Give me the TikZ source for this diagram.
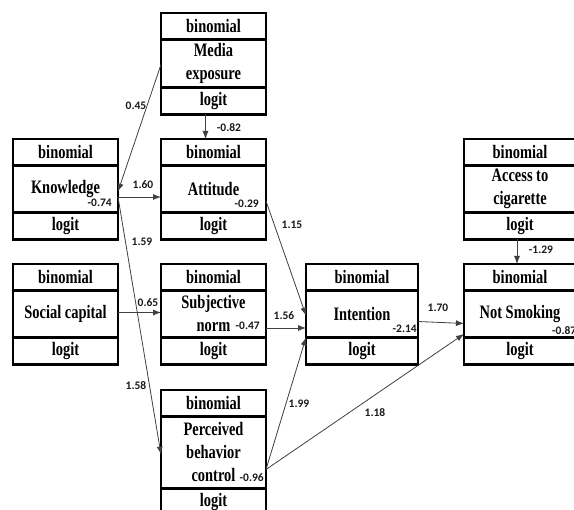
\documentclass[tikz,border=0pt]{standalone}
\usepackage{fontspec}
\setmainfont{Liberation Serif}
\newfontfamily\boxfont{Liberation Serif}[FakeStretch=0.76]
\newfontfamily\coeffont{Carlito}
\usetikzlibrary{arrows.meta,calc}
\tikzset{
  cell/.style={draw=black, line width=2.6pt, inner sep=0pt, outer sep=0pt,
    anchor=north west, align=center,
    font=\boxfont\bfseries\fontsize{19}{23}\selectfont},
  coef/.style={font=\coeffont\bfseries\fontsize{11.5}{13}\selectfont, inner sep=0pt, text=black!90},
  link/.style={draw=black!75, line width=0.8pt, -{Latex[length=8pt,width=6pt]}}
}
\newcommand\mkbox[6]{%
  \node[cell, minimum width=#4pt, minimum height=26.5pt] (#1-h) at (#2,#3) {binomial};
  \node[cell, minimum width=#4pt, minimum height=#5pt] (#1) at (#1-h.south west) {#6};
  \node[cell, minimum width=#4pt, minimum height=27pt] (#1-l) at (#1.south west) {logit};
}
\begin{document}
\begin{tikzpicture}[x=1pt,y=-1pt]
\useasboundingbox (0,0) rectangle (574,510);
\clip (0,0) rectangle (574,510);
\mkbox{med}{161}{13}{105}{48}{Media\\exposure}
\mkbox{know}{13}{139}{105}{47}{Knowledge}
\mkbox{att}{161}{139}{105}{47}{Attitude}
\mkbox{acc}{464}{139}{112}{47}{Access to\\cigarette}
\mkbox{soc}{13}{264}{105}{47}{Social capital}
\mkbox{subj}{161}{264}{105}{47}{Subjective\\norm}
\mkbox{int}{306}{264}{112}{47}{Intention}
\mkbox{ns}{464}{264}{112}{47}{Not Smoking}
\mkbox{pbc}{161}{390}{105}{72}{Perceived\\behavior\\control}

% intercepts
\node[coef, anchor=east] (i-know) at (112,203) {-0.74};
\node[coef, anchor=east] (i-att) at (259,204) {-0.29};
\node[coef, anchor=east] (i-subj) at (260,326) {-0.47};
\node[coef, anchor=east] (i-pbc) at (264,478) {-0.96};
\node[coef, anchor=east] (i-int) at (417,329) {-2.14};
\node[coef, anchor=west] (i-ns) at (552,331) {-0.87};

% connectors
\draw[link] ($(med.west)+(0,1)$) -- ($(know.east)+(0,2.5)$);
\draw[link] ($(med-l.south)+(-8,0)$) -- ($(att-h.north)+(-8,0)$);
\draw[link] ($(know.east)+(0,8)$) -- ($(att.west)+(0,8)$);
\draw[link] ($(know.east)+(0,8)$) -- ($(pbc.west)+(0,2)$);
\draw[link] ($(soc.east)+(0,-1.5)$) -- ($(subj.west)+(0,-1.5)$);
\draw[link] ($(att.east)+(0,12)$) -- ($(int.west)+(0,1.5)$);
\draw[link] ($(subj.east)+(0,14)$) -- ($(int.west)+(0,14)$);
\draw[link] ($(pbc.east)+(0,17)$) -- ($(int.west)+(0,23.5)$);
\draw[link] ($(pbc.east)+(0,17)$) -- ($(ns.west)+(0,20)$);
\draw[link] ($(int.east)+(0,7.5)$) -- ($(ns.west)+(0,9.5)$);
\draw[link] ($(acc-l.south)+(-3,0)$) -- ($(ns-h.north)+(-3,0)$);

% path coefficients
\node[coef] (c1) at (136,106) {0.45};
\node[coef] (c2) at (229,128) {-0.82};
\node[coef] (c3) at (143,185) {1.60};
\node[coef] (c4) at (142,242) {1.59};
\node[coef] (c5) at (148,303) {0.65};
\node[coef] (c6) at (136,386) {1.58};
\node[coef] (c7) at (292,225) {1.15};
\node[coef] (c8) at (284,316) {1.56};
\node[coef] (c9) at (299,404) {1.99};
\node[coef] (c10) at (375,413) {1.18};
\node[coef] (c11) at (438,308) {1.70};
\node[coef] (c12) at (541,250) {-1.29};
\end{tikzpicture}
\end{document}
